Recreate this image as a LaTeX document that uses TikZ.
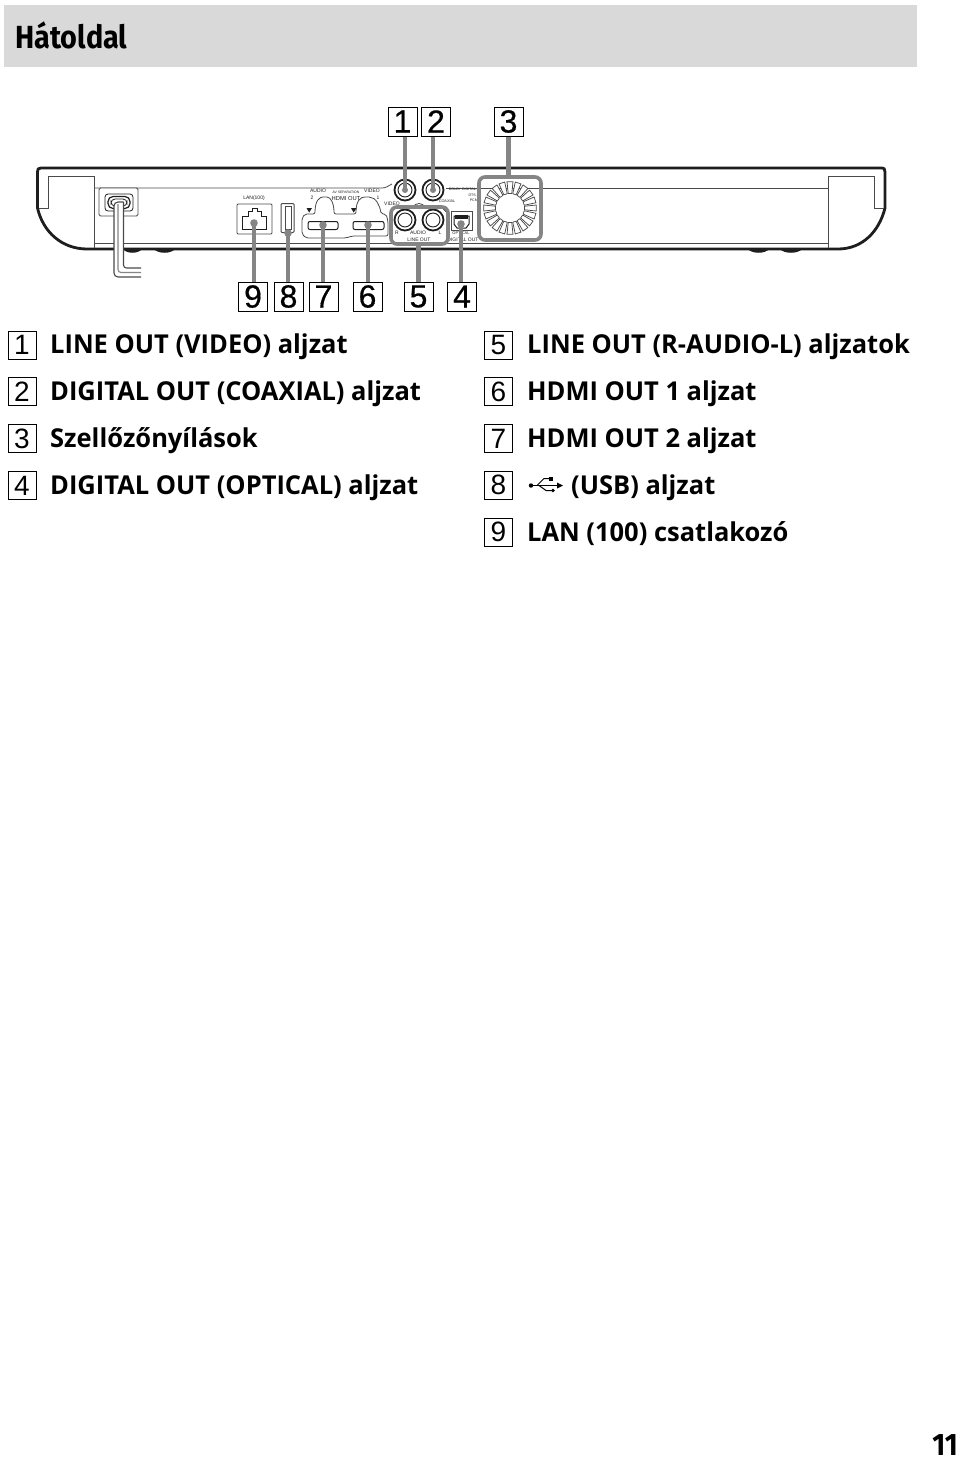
\documentclass[tikz,border=0pt]{standalone}
\usepackage{fontspec}
\setmainfont{Open Sans}[BoldFont={Open Sans Bold},FakeStretch=0.98]
\newfontfamily\digitfont{Liberation Sans}
\newfontfamily\digitbold{Liberation Sans}[FakeBold=0.5]
\newfontfamily\smallfont{Liberation Sans}
\newfontfamily\titlefont{Fira Sans}[BoldFont={Fira Sans Bold},FakeStretch=0.9]
\definecolor{leadgray}{HTML}{858585}
\definecolor{inkk}{HTML}{1E1E1E}
\definecolor{thinl}{HTML}{4A4A4A}
\tikzset{
  numbox/.style={draw=black,line width=1pt,fill=white,minimum width=29pt,minimum height=29pt,inner sep=0pt,font=\digitbold\fontsize{32}{32}\selectfont},
  listbox/.style={draw=black,line width=0.9pt,fill=white,minimum width=28pt,minimum height=28pt,inner sep=0pt,font=\digitfont\fontsize{28}{28}\selectfont},
  item/.style={anchor=base west,inner sep=0pt,font=\fontsize{26}{27}\selectfont\bfseries},
  leader/.style={draw=leadgray,line width=4.1pt},
  dot/.style={fill=leadgray,draw=none},
  body/.style={draw=inkk,line width=2.8pt,line join=round},
  thin/.style={draw=thinl,line width=0.8pt},
  tiny/.style={inner sep=0pt,text=inkk,font=\smallfont\fontsize{5}{5.5}\selectfont,align=center},
}
\begin{document}
\begin{tikzpicture}[x=1pt,y=-1pt]
\useasboundingbox (0,0) rectangle (960,1460);
\fill[white] (0,0) rectangle (960,1460);
% title
\node[fill=black!15,minimum width=913pt,minimum height=62pt,inner sep=0pt,anchor=north west] (band) at (4,5) {};
\node[anchor=base west,inner sep=0pt,font=\titlefont\bfseries\fontsize{32}{32}\selectfont] (title) at (15,48.5) {Hátoldal};
% body
\draw[body] (37.5,208) -- (37.5,172) .. controls (37.5,169) and (38,168) .. (41,168) -- (881,168) .. controls (884.5,168) and (885,169) .. (885,172) -- (885,208)
  .. controls (879,232) and (862,249) .. (838,249) -- (87,249) .. controls (62,249) and (43,232) .. (37.5,208) -- cycle;
% feet
\foreach \a/\b in {123/142,154/175,748/769,780/802}{
  \fill[inkk] (\a,249) .. controls (\a+4,254) and (\b-4,254) .. (\b,249) -- cycle;
}
% inner outlines
\draw[thin] (39,208) -- (48,208) -- (48,176) -- (94,176) -- (94,248);
\draw[thin] (884,208) -- (874,208) -- (874,176) -- (828,176) -- (828,248);
\draw[thin] (94,188) -- (382,188) .. controls (386,188) and (388,186) .. (392,184);
\draw[thin] (446,188) -- (828,188);
\draw[thin] (94,243) -- (828,243);
% power inlet
\node[draw=thinl,line width=0.8pt,fill=white,rounded corners=1.5pt,minimum width=39pt,minimum height=28pt,inner sep=0pt] (inlet) at (118.5,202) {};
\draw[draw=inkk,line width=0.8pt,rounded corners=3pt] (105,194) rectangle (133,211);
\draw[draw=inkk,line width=1.2pt,rounded corners=5pt] (108,196.5) rectangle (130,208.5);
\draw[draw=inkk,line width=0.8pt,rounded corners=4pt] (111,199) rectangle (127,206);
% power cable
\coordinate (cableA) at (141,277);
\coordinate (cableB) at (141,268);
\fill[white] (114,202) rectangle (123,270);
\draw[draw=thinl,line width=1.1pt,rounded corners=4pt] (123.5,202) -- (114,202) -- (114,277) -- (cableA);
\draw[draw=leadgray,line width=1.1pt,rounded corners=3pt] (118,204) -- (118,272.5) -- (141,272.5);
\draw[draw=thinl,line width=1.1pt,rounded corners=3pt] (123.5,202) -- (123.5,268) -- (cableB);
% LAN
\node[draw=thinl,line width=0.8pt,rounded corners=1pt,minimum width=35pt,minimum height=30pt,inner sep=0pt] (lan) at (254.5,219) {};
\draw[draw=inkk,line width=1pt] (242,229.5) -- (242,216) -- (248,216) -- (248,211) -- (252,211) -- (252,208.5) -- (257,208.5) -- (257,211) -- (261,211) -- (261,216) -- (266,216) -- (266,229.5) -- cycle;
\node[tiny] (lanlabel) at (254,198) {LAN(100)};
% USB
\node[draw=thinl,line width=1pt,rounded corners=1pt,minimum width=13pt,minimum height=29pt,inner sep=0pt] (usb) at (287.5,218) {};
\draw[thin] (285,206) rectangle (291,229);
% HDMI surround
\draw[draw=thinl,line width=0.8pt,rounded corners=2pt] (305,214) -- (315,214) .. controls (315,200) and (320,197) .. (325,197) .. controls (331,197) and (334,204) .. (334,214) -- (356,214) .. controls (356,200) and (361,197) .. (367,197) .. controls (376,197) and (380,206) .. (381,214) -- (386,214) -- (388,221) -- (388,236) -- (352,236) -- (346,238) -- (306,238) -- (302,234) -- (302,218) -- cycle;
\node[draw=inkk,line width=1pt,rounded corners=2pt,minimum width=30pt,minimum height=8pt,inner sep=0pt] (hdmi2) at (323,225.5) {};
\node[draw=inkk,line width=1pt,rounded corners=2pt,minimum width=31pt,minimum height=8pt,inner sep=0pt] (hdmi1) at (368.5,225.5) {};
\fill[inkk] (306.5,208) -- (312,208) -- (309.2,212.5) -- cycle;
\fill[inkk] (351,208) -- (356.5,208) -- (353.7,212.5) -- cycle;
\node[tiny] (t1) at (318,191) {AUDIO};
\node[tiny] (t2) at (312,198) {2};
\node[tiny,font=\smallfont\fontsize{3.4}{4}\selectfont] (t3) at (346,192) {AV SEPARATION};
\node[tiny,font=\smallfont\fontsize{5.8}{6}\selectfont] (t4) at (346,198) {HDMI OUT};
\node[tiny] (t5) at (372,191) {VIDEO};
\node[tiny] (t6) at (378,198) {1};
% RCA jacks
\foreach \n/\cx/\cy in {video/405/190,coax/433/190,rr/405/220,ll/433/220}{
  \node[circle,draw=inkk,line width=1.8pt,fill=white,minimum size=21pt,inner sep=0pt] (\n) at (\cx,\cy) {};
  \draw[draw=inkk,line width=0.9pt] (\cx,\cy) circle (7);
}
\draw[thin] (413,208) .. controls (414,202) and (424,202) .. (425,208);
\fill[inkk] (440,206) -- (446,206) -- (446,212) -- cycle;
\node[tiny] (t7) at (392,204) {VIDEO};
\node[tiny,font=\smallfont\fontsize{3.8}{4}\selectfont] (t8) at (447,201) {COAXIAL};
\node[tiny] (t9) at (397,233) {R};
\node[tiny] (t10) at (418,233) {AUDIO};
\node[tiny] (t11) at (440,233) {L};
\node[tiny] (t12) at (419,240) {LINE OUT};
% optical
\node[draw=thinl,line width=0.8pt,minimum width=21pt,minimum height=19pt,inner sep=0pt] (optical) at (461.5,220.5) {};
\draw[draw=inkk,line width=1pt,fill=white] (454,216) -- (469,216) -- (469,224) -- (466,228) -- (457,228) -- (454,224) -- cycle;
\fill[inkk] (455,215) rectangle (468,219);
\node[tiny,font=\smallfont\fontsize{4}{4.5}\selectfont] (t13) at (461,233.5) {OPTICAL};
\node[tiny] (t14) at (463,240) {DIGITAL OUT};
% dolby
\node[tiny,font=\smallfont\fontsize{3.6}{4}\selectfont,anchor=east] (t15) at (478,189.5) {DOLBY DIGITAL /};
\node[tiny,font=\smallfont\fontsize{3.6}{4}\selectfont,anchor=east] (t16) at (478,195.5) {DTS /};
\node[tiny,font=\smallfont\fontsize{3.6}{4}\selectfont,anchor=east] (t17) at (478,200.5) {PCM};
% fan
\begin{scope}[shift={(510,208)}]
\foreach \a in {0,18,...,350}{
  \draw[draw=thinl,line width=0.75pt,line join=round,fill=white] (\a-7:14.5) -- (\a-6.5:26.5) -- (\a+6.5:26.5) -- (\a+7:14.5) -- cycle;
}
\end{scope}
% highlight boxes
\node[draw=leadgray,line width=3.6pt,rounded corners=6pt,minimum width=62pt,minimum height=63pt,inner sep=0pt] (fanbox) at (510,208.5) {};
\node[draw=leadgray,line width=3.6pt,rounded corners=6pt,minimum width=57pt,minimum height=37pt,inner sep=0pt] (linebox) at (419.5,225.5) {};
% number boxes
\node[numbox] (a1) at (402.5,121.5) {1};
\node[numbox] (a2) at (436,121.5) {2};
\node[numbox] (a3) at (508.5,121.5) {3};
\node[numbox] (b9) at (253,296.5) {9};
\node[numbox] (b8) at (288.5,296.5) {8};
\node[numbox] (b7) at (323.5,296.5) {7};
\node[numbox] (b6) at (367.5,296.5) {6};
\node[numbox] (b5) at (418.5,296.5) {5};
\node[numbox] (b4) at (462,296.5) {4};
% leader end points
\coordinate (p1) at (405,190);
\coordinate (p2) at (433,190);
\coordinate (p9) at (254,223);
\coordinate (p8) at (288,233);
\coordinate (p7) at (323,225);
\coordinate (p6) at (368,225);
\coordinate (p4) at (461,224);
\draw[leader] (a1.south -| p1) -- (p1);
\draw[leader] (a2.south -| p2) -- (p2);
\draw[leader] (a3.south) -- (fanbox.north -| a3.south);
\draw[leader] (b5.north) -- (linebox.south -| b5.north);
\foreach \k/\p in {b9/p9,b8/p8,b7/p7,b6/p6,b4/p4}{
  \draw[leader] (\k.north -| \p) -- (\p);
  \fill[dot] (\p) circle (3.8);
}
\fill[dot] (p1) circle (3);
\fill[dot] (p2) circle (3);
% list left
\node[listbox] (l1) at (22,345) {1};
\node[listbox] (l2) at (22,391.5) {2};
\node[listbox] (l3) at (22,438.5) {3};
\node[listbox] (l4) at (22,485.5) {4};
\node[item] (lt1) at (50,353.5) {LINE OUT (VIDEO) aljzat};
\node[item] (lt2) at (50,400.5) {DIGITAL OUT (COAXIAL) aljzat};
\node[item] (lt3) at (50,447.5) {Szellőzőnyílások};
\node[item] (lt4) at (50,494.5) {DIGITAL OUT (OPTICAL) aljzat};
% list right
\node[listbox] (r5) at (498.5,345) {5};
\node[listbox] (r6) at (498.5,391.5) {6};
\node[listbox] (r7) at (498.5,438.5) {7};
\node[listbox] (r8) at (498.5,485) {8};
\node[listbox] (r9) at (498.5,532) {9};
\node[item] (rt5) at (527,353.5) {LINE OUT (R-AUDIO-L) aljzatok};
\node[item] (rt6) at (527,400.5) {HDMI OUT 1 aljzat};
\node[item] (rt7) at (527,447.5) {HDMI OUT 2 aljzat};
\node[item] (rt8) at (571,494.5) {(USB) aljzat};
\node[item] (rt9) at (527,541.5) {LAN (100) csatlakozó};
% USB symbol
\fill (531,485.5) circle (2.2);
\draw[line width=1pt] (531,485.5) -- (558,485.5);
\draw[line width=1pt] (537,485.5) -- (544,478.5) -- (549,478.5);
\draw[line width=1pt] (539,485.5) -- (546,490.5) -- (552,490.5);
\fill (549,476.5) rectangle (552.5,480.5);
\fill (553,490.5) circle (1.8);
\fill (563,485.5) -- (557,482.5) -- (557,488.5) -- cycle;
% page number
\node[anchor=base east,inner sep=0pt,font=\titlefont\bfseries\fontsize{31}{31}\selectfont] (page) at (958,1455) {11};
\end{tikzpicture}
\end{document}
